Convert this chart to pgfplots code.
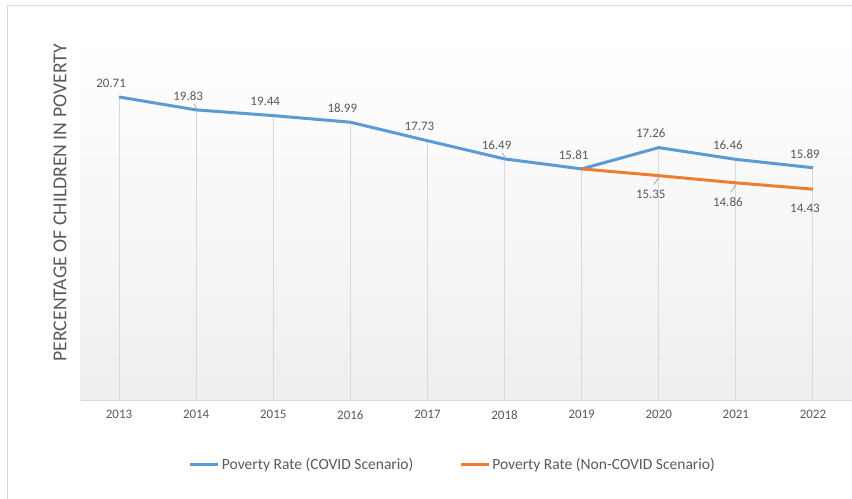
\documentclass[border=0pt]{standalone}
\usepackage{fontspec}
\setmainfont{Carlito}
\usepackage{pgfplots}
\pgfplotsset{compat=1.18}
\definecolor{covid}{HTML}{5B9BD5}
\definecolor{noncovid}{HTML}{ED7D31}
\definecolor{txt}{HTML}{595959}
\definecolor{gridc}{HTML}{D9D9D9}

\begin{document}
\begin{tikzpicture}[x=1bp,y=1bp]
\path[use as bounding box] (0,0) rectangle (852,499);
\draw[gridc, line width=1bp] (7,0) -- (7,493) -- (852,493);
\begin{axis}[
    at={(80.5bp,98bp)}, anchor=south west,
    scale only axis, width=771bp, height=367bp,
    xmin=2012.5, xmax=2022.5,
    ymin=0, ymax=25,
    axis lines*=left,
    y axis line style={draw=none},
    x axis line style={draw=gridc, line width=1bp},
    ytick=\empty,
    xtick={2013,2014,2015,2016,2017,2018,2019,2020,2021,2022},
    major tick length=0pt,
    xticklabel style={/pgf/number format/1000 sep={}, font=\fontsize{13}{15}\selectfont, text=txt, yshift=-6bp},
    /pgf/number format/assume math mode=true,
    axis background/.style={shade, top color=white, bottom color=gray!13},
    ylabel={PERCENTAGE OF CHILDREN IN POVERTY},
    ylabel style={at={(axis description cs:-0.0266,0.54)}, anchor=center, font=\fontsize{19.8}{22}\selectfont, text=txt},
    legend style={at={(0.483,-0.174)}, anchor=center, draw=none, fill=none,
        font=\fontsize{15.6}{18}\selectfont, text=txt,
        /tikz/every even column/.append style={column sep=44bp}},
    legend columns=2,
    legend image code/.code={\draw[#1] (0bp,0bp) -- (28bp,0bp);},
    point meta=explicit symbolic,
    every node near coord/.append style={font=\fontsize{13}{15}\selectfont, text=txt, anchor=center, xshift=-8bp},
]

% drop lines
\addplot[ycomb, gridc, line width=1bp, forget plot] coordinates {
(2013,20.71) (2014,19.83) (2015,19.44) (2016,18.99) (2017,17.73)
(2018,16.49) (2019,15.81) (2020,17.26) (2021,16.46) (2022,15.89)
};

\addplot[color=covid, line width=3bp, mark=none,
    nodes near coords, every node near coord/.append style={yshift=14bp}]
    coordinates {
(2013,20.71) [20.71]
(2014,19.83) [19.83]
(2015,19.44) [19.44]
(2016,18.99) [18.99]
(2017,17.73) [17.73]
(2018,16.49) [16.49]
(2019,15.81) [15.81]
(2020,17.26) [17.26]
(2021,16.46) [16.46]
(2022,15.89) [15.89]
};

\addplot[color=noncovid, line width=3bp, mark=none,
    nodes near coords, every node near coord/.append style={yshift=-19bp}]
    coordinates {
(2019,15.81) []
(2020,15.35) [15.35]
(2021,14.86) [14.86]
(2022,14.43) [14.43]
};

% leader lines of some data labels
\draw[gray!70, line width=0.8bp] ([shift={(-2bp,6bp)}]axis cs:2014,19.83) -- ([shift={(0bp,2bp)}]axis cs:2014,19.83);
\draw[gray!70, line width=0.8bp] ([shift={(-2bp,6bp)}]axis cs:2018,16.49) -- ([shift={(0bp,2bp)}]axis cs:2018,16.49);
\draw[gray!70, line width=0.8bp] ([shift={(0bp,-2bp)}]axis cs:2020,15.35) -- ([shift={(-5bp,-9bp)}]axis cs:2020,15.35);
\draw[gray!70, line width=0.8bp] ([shift={(0bp,-2bp)}]axis cs:2021,14.86) -- ([shift={(-5bp,-9bp)}]axis cs:2021,14.86);

\legend{Poverty Rate (COVID Scenario), Poverty Rate (Non-COVID Scenario)}
\end{axis}
\end{tikzpicture}
\end{document}
